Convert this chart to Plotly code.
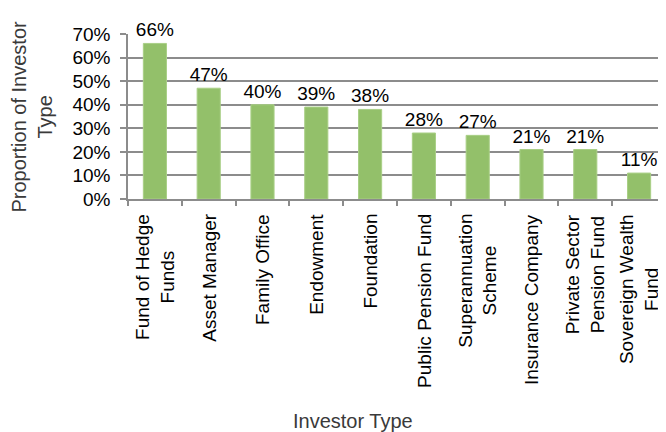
import plotly.graph_objects as go

categories = ["Fund of Hedge Funds", "Asset Manager", "Family Office", "Endowment",
              "Foundation", "Public Pension Fund", "Superannuation Scheme",
              "Insurance Company", "Private Sector Pension Fund", "Sovereign Wealth Fund"]
tick_labels = ["Fund of Hedge<br>Funds", "Asset Manager", "Family Office", "Endowment",
               "Foundation", "Public Pension Fund", "Superannuation<br>Scheme",
               "Insurance Company", "Private Sector<br>Pension Fund", "Sovereign Wealth<br>Fund"]
values = [0.66, 0.47, 0.40, 0.39, 0.38, 0.28, 0.27, 0.21, 0.21, 0.11]
labels = ["66%", "47%", "40%", "39%", "38%", "28%", "27%", "21%", "21%", "11%"]
ytick_vals = [0, 0.1, 0.2, 0.3, 0.4, 0.5, 0.6, 0.7]
ytick_text = ["0%", "10%", "20%", "30%", "40%", "50%", "60%", "70%"]

FONT = "Liberation Sans, Arial, sans-serif"
GRID = "#8c8c8c"
OFF = 8  # default page body margin
W, H = 666 - OFF, 432 - OFF
L, T = 128 - OFF, 34 - OFF
BOTTOM = 199 - OFF
B = H - BOTTOM
PW, PH = W - L, BOTTOM - T

fig = go.Figure(go.Bar(
    x=categories, y=values, text=labels, textposition="outside",
    constraintext="none",
    textfont=dict(family=FONT, size=19, color="#000000"),
    marker=dict(color="#93c06a", line=dict(color="#a9cf86", width=1)),
    width=0.43, cliponaxis=False,
))

fig.update_layout(
    width=W, height=H,
    margin=dict(l=L, r=0, t=T, b=B, autoexpand=False),
    plot_bgcolor="white", paper_bgcolor="white",
    showlegend=False,
    font=dict(family=FONT, size=19, color="#000000"),
)
fig.update_yaxes(
    range=[0, 0.7], tickvals=ytick_vals, ticktext=ytick_text,
    showgrid=True, gridcolor=GRID, gridwidth=1.5,
    showline=True, linecolor=GRID, linewidth=1.5,
    ticks="outside", ticklen=6, tickcolor=GRID, tickwidth=1.5,
    ticklabelstandoff=6, zeroline=False, automargin=False,
    tickfont=dict(family=FONT, size=19, color="#000000"),
)
fig.update_xaxes(
    type="category", tickson="boundaries", range=[-0.5, 9.5],
    showline=True, linecolor=GRID, linewidth=1.5,
    ticks="outside", ticklen=5, tickcolor=GRID, tickwidth=1.5,
    showgrid=False, showticklabels=False, automargin=False,
)
for cat, lab in zip(categories, tick_labels):
    fig.add_annotation(text=lab, x=cat, xref="x", yref="paper",
                       y=-(212 - 199) / PH, xanchor="center", yanchor="top",
                       textangle=-90, showarrow=False, align="center",
                       font=dict(family=FONT, size=19, color="#000000"))
fig.add_annotation(text="Investor Type", xref="paper", yref="paper",
                   x=(353 - 128) / PW, y=-(421 - 199) / PH, xanchor="center", yanchor="middle",
                   showarrow=False, font=dict(family=FONT, size=20, color="#3a3a3a"))
fig.add_annotation(text="Proportion of Investor<br>Type", xref="paper", yref="paper",
                   x=-(128 - 31) / PW, y=0.5, xanchor="center", yanchor="middle",
                   textangle=-90, showarrow=False,
                   font=dict(family=FONT, size=20, color="#3a3a3a"))

fig.write_html("out.html")
